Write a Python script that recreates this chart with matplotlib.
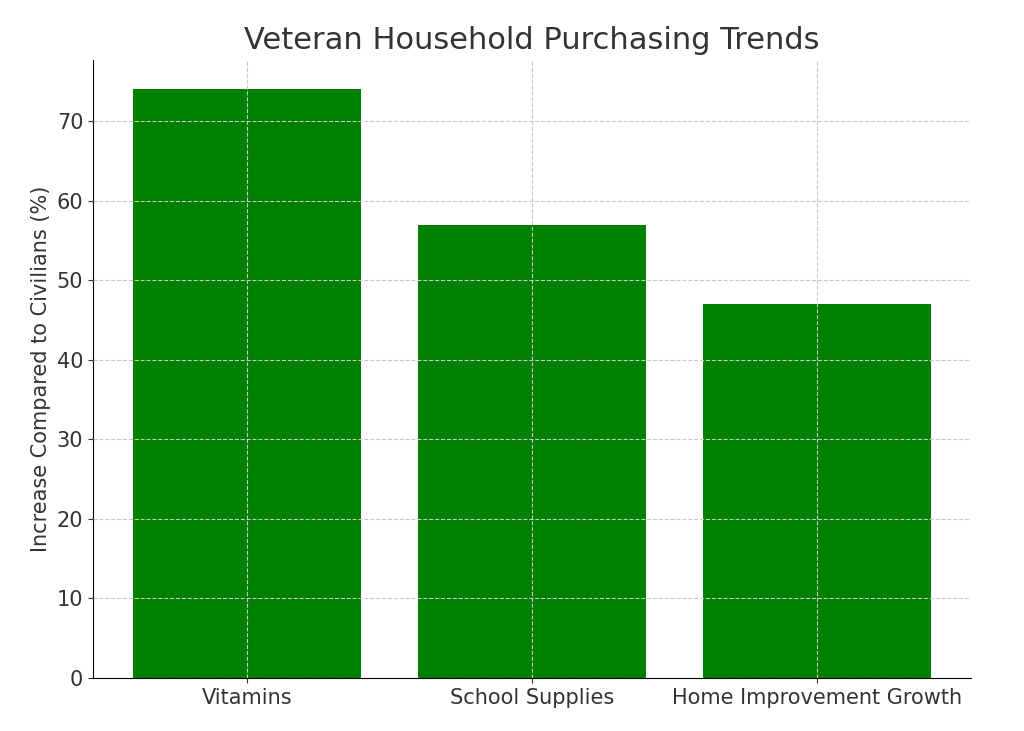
import matplotlib
matplotlib.use("Agg")
import matplotlib.pyplot as plt

categories = ["Vitamins", "School Supplies", "Home Improvement Growth"]
values = [74, 57, 47]

fig = plt.figure(figsize=(10.24, 7.31), dpi=100)
ax = fig.add_axes([93/1024, 1-678/731, (971-93)/1024, (678-60)/731])
ax.bar(categories, values, color="#008000", width=0.8)
ax.set_axisbelow(False)
ax.grid(True, linestyle="--", color="#c8c8c8", linewidth=0.8)
ax.spines["top"].set_visible(False)
ax.spines["right"].set_visible(False)
ax.set_ylim(0, 77.7)
ax.set_yticks(range(0, 80, 10))
ax.tick_params(labelsize=15, colors="#333333")
ax.set_ylabel("Increase Compared to Civilians (%)", fontsize=15, color="#333333")
ax.set_title("Veteran Household Purchasing Trends", fontsize=22, color="#333333", pad=8)
fig.savefig("out.png", dpi=100)
